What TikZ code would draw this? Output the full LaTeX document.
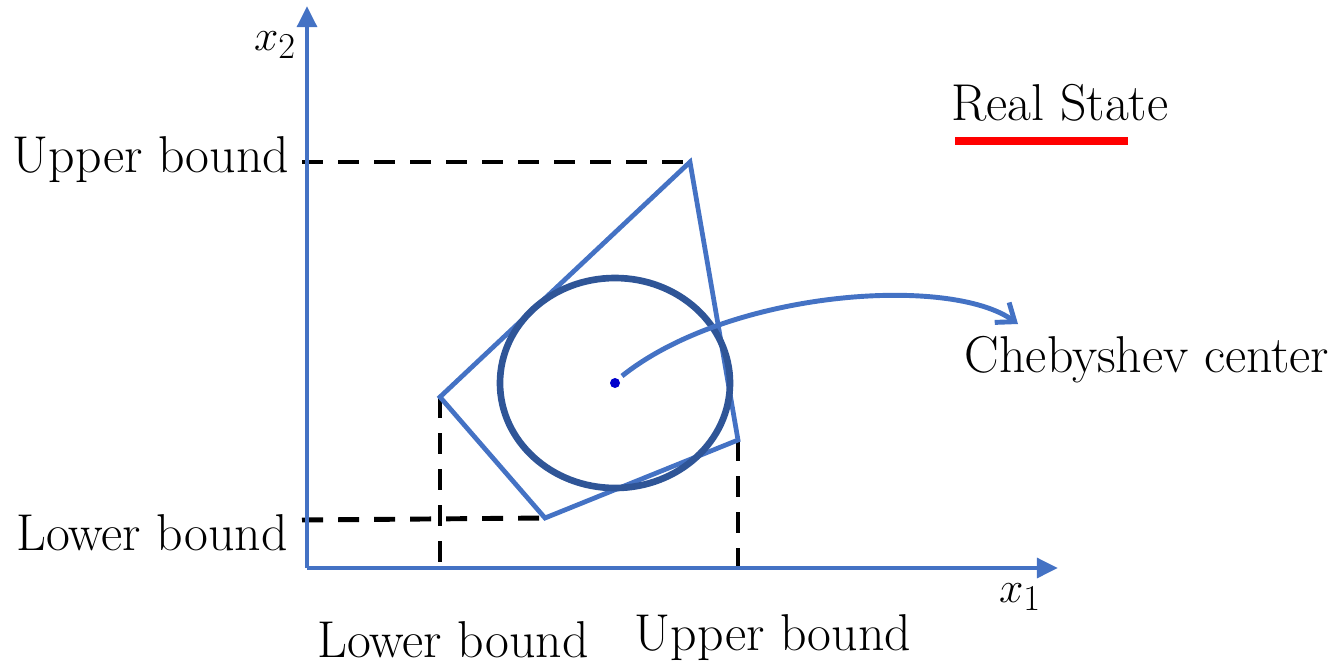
\documentclass[tikz,border=0pt]{standalone}
\usetikzlibrary{arrows.meta}
\definecolor{polyblue}{HTML}{4472C4}
\definecolor{circblue}{HTML}{2F5597}
\definecolor{dotblue}{HTML}{0000CC}
\begin{document}
\begin{tikzpicture}[x=0.02cm,y=-0.02cm,
  lbl/.style={font=\fontsize{29.5}{35}\selectfont, inner sep=0pt},
  axis/.style={polyblue, line width=2.8pt, -{Triangle[length=12pt,width=11pt]}},
  poly/.style={polyblue, line width=2.7pt, line join=miter},
  bounddash/.style={black, line width=2.8pt, dash pattern=on 12pt off 8.5pt}]
\useasboundingbox (0,0) rectangle (1336,667);
% coordinates
\coordinate (O) at (307,568);
\coordinate (xend) at (1058,568);
\coordinate (yend) at (307,6);
\coordinate (A) at (690,162);
\coordinate (B) at (738,440);
\coordinate (C) at (545,518);
\coordinate (D) at (440,397);
% bound labels
\node[lbl] (ub) at (151,160) {Upper bound};
\node[lbl] (lb) at (152,533) {Lower bound};
\node[lbl] (lbx) at (453,640) {Lower bound};
\node[lbl] (ubx) at (773,638) {Upper bound};
% dashed lines
\coordinate (ubl) at (302,162);
\coordinate (lbl) at (302,520);
\coordinate (Dx) at (440,568);
\coordinate (Bx) at (738,568);
\draw[bounddash] (ubl) -- (A);
\draw[bounddash] (lbl) -- (C);
\draw[bounddash] (D) -- (Dx);
\draw[bounddash] (B) -- (Bx);
% axes
\draw[axis] (O) -- (xend);
\draw[axis] (O) -- (yend);
\node[lbl] (x2) at (275,45) {$x_2$};
\node[lbl] (x1) at (1020,597) {$x_1$};
% polygon edges
\draw[poly] (A) -- (B) -- (C) -- (D) -- cycle;
% inscribed circle
\coordinate (ctr) at (615,383);
\draw[circblue, line width=3.8pt] (ctr) ellipse [x radius=115, y radius=105];
\fill[dotblue] (ctr) circle [radius=5];
% Chebyshev arrow
\node[lbl] (cheb) at (1147,360) {Chebyshev center};
\coordinate (arrstart) at (622,376);
\coordinate (arrend) at (1018,324);
\draw[polyblue, line width=2.8pt, -{Straight Barb[length=9pt,width=14pt]}] (arrstart) .. controls (730,290) and (950,275) .. (arrend);
% legend
\node[lbl] (real) at (1060,103) {Real State};
\coordinate (rl) at (955,141);
\coordinate (rr) at (1128,141);
\draw[red, line width=4pt] (rl) -- (rr);
\end{tikzpicture}
\end{document}
